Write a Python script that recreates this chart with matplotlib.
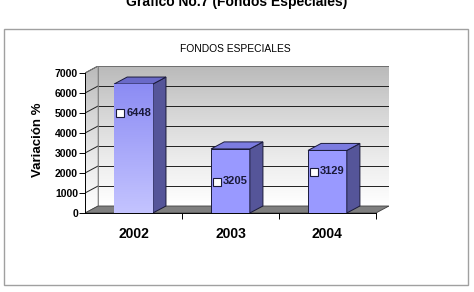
import numpy as np
import matplotlib.pyplot as plt
from matplotlib.patches import Polygon, Rectangle
from matplotlib.colors import LinearSegmentedColormap

plt.rcParams['font.family'] = ['Liberation Sans', 'DejaVu Sans']

years = ['2002', '2003', '2004']
valores = [6448, 3205, 3129]
yticks = [0, 1000, 2000, 3000, 4000, 5000, 6000, 7000]
ymax = 7000

# position des etiquettes (x en unites de categorie, y en valeur)
label_pos = [(-0.17, 5025), (0.83, 1575), (1.83, 2075)]

dx, dy = 0.135, 350   # profondeur du "3D"
w = 0.4

fig = plt.figure(figsize=(4.74, 2.92), dpi=100)
fig.patches.append(Rectangle((4 / 474, 7 / 292), 464 / 474, 256 / 292,
                             transform=fig.transFigure, fill=False,
                             edgecolor='#a0a0a0', lw=1.0))
fig.text(0.5, 1 - 6 / 292, 'Gráfico No.7 (Fondos Especiales)', ha='center',
         va='baseline', fontsize=10, fontweight='bold')
fig.text(235 / 474, 1 - 49 / 292, 'FONDOS ESPECIALES', ha='center',
         va='center', fontsize=7.4)

ax = fig.add_axes([85 / 474, 79 / 292, 304 / 474, 147 / 292])
ax.set_xlim(-0.5, 2.5 + dx)
ax.set_ylim(0, ymax + dy)
ax.patch.set_visible(False)

# degrade gris -> blanc
grad = np.linspace(1, 0, 256).reshape(-1, 1)
cm_mur = LinearSegmentedColormap.from_list('mur', ['#ffffff', '#ececec', '#d6d6d6', '#bababa'])

x0, x1 = -0.5, 2.5
mur = Rectangle((x0 + dx, dy), x1 - x0, ymax, facecolor='none', edgecolor='#808080', lw=0.6, zorder=2)
ax.add_patch(mur)
im = ax.imshow(grad, cmap=cm_mur, extent=(x0 + dx, x1 + dx, dy, ymax + dy),
               aspect='auto', zorder=0)
im.set_clip_path(mur)

cote = Polygon([(x0, 0), (x0 + dx, dy), (x0 + dx, ymax + dy), (x0, ymax)],
               closed=True, facecolor='none', edgecolor='#808080', lw=0.6, zorder=2)
ax.add_patch(cote)
im2 = ax.imshow(grad, cmap=cm_mur, extent=(x0, x0 + dx, 0, ymax + dy),
                aspect='auto', zorder=0)
im2.set_clip_path(cote)

for t in yticks[1:]:
    ax.plot([x0 + dx, x1 + dx], [t + dy, t + dy], color='#202020', lw=0.7, zorder=1)
    ax.plot([x0, x0 + dx], [t, t + dy], color='#202020', lw=0.7, zorder=1)

sol = Polygon([(x0, 0), (x1, 0), (x1 + dx, dy), (x0 + dx, dy)], closed=True,
              facecolor='#7f7f7f', edgecolor='#404040', lw=0.6, zorder=2)
ax.add_patch(sol)

xs = np.arange(len(years))
bars = ax.bar(xs, valores, width=w, color='#9999ff', edgecolor='#1a1a3a', lw=0.7, zorder=4)
for i, (x, v) in enumerate(zip(xs, valores)):
    l, r = x - w / 2, x + w / 2
    ax.add_patch(Polygon([(r, 0), (r + dx, dy), (r + dx, v + dy), (r, v)], closed=True,
                         facecolor='#555599', edgecolor='#1a1a3a', lw=0.7, zorder=4))
    ax.add_patch(Polygon([(l, v), (r, v), (r + dx, v + dy), (l + dx, v + dy)], closed=True,
                         facecolor='#7c7ce0' if i else '#6a6ac8', edgecolor='#1a1a3a',
                         lw=0.7, zorder=4))

# barre 2002 avec degrade
cm_bar = LinearSegmentedColormap.from_list('bar', ['#c4c4ff', '#8c8cf4'])
b0 = bars[0]
im3 = ax.imshow(grad, cmap=cm_bar, extent=(xs[0] - w / 2, xs[0] + w / 2, 0, valores[0]),
                aspect='auto', zorder=4.5)
im3.set_clip_path(b0)

for (lx, ly), v in zip(label_pos, valores):
    ax.plot(lx + 0.035, ly, marker='s', ms=5.5, mfc='white', mec='#1a1a3a', mew=0.8,
            zorder=6, clip_on=False)
    ax.text(lx + 0.095, ly, str(v), ha='left', va='center', fontsize=8,
            fontweight='bold', color='#1a1a3a', zorder=6)

for s in ['top', 'right']:
    ax.spines[s].set_visible(False)
ax.spines['left'].set_bounds(0, ymax)
ax.spines['bottom'].set_bounds(x0, x1)
ax.spines['left'].set_zorder(5)
ax.spines['bottom'].set_zorder(5)
ax.spines['left'].set_linewidth(0.7)
ax.spines['bottom'].set_linewidth(0.7)

ax.set_yticks(yticks)
ax.set_yticklabels([str(t) for t in yticks], fontsize=7.5, fontweight='bold')
ax.tick_params(axis='y', length=4, width=0.7, pad=1)
ax.set_xticks(xs)
ax.set_xticklabels(years, fontsize=10, fontweight='bold')
ax.set_xticks([0.5, 1.5, 2.5], minor=True)
ax.tick_params(axis='x', which='major', length=0, pad=10)
ax.tick_params(axis='x', which='minor', length=4, width=0.7)
ax.set_ylabel('Variación %', fontsize=9.5, fontweight='bold', labelpad=8)

fig.savefig('out.png', dpi=100)
